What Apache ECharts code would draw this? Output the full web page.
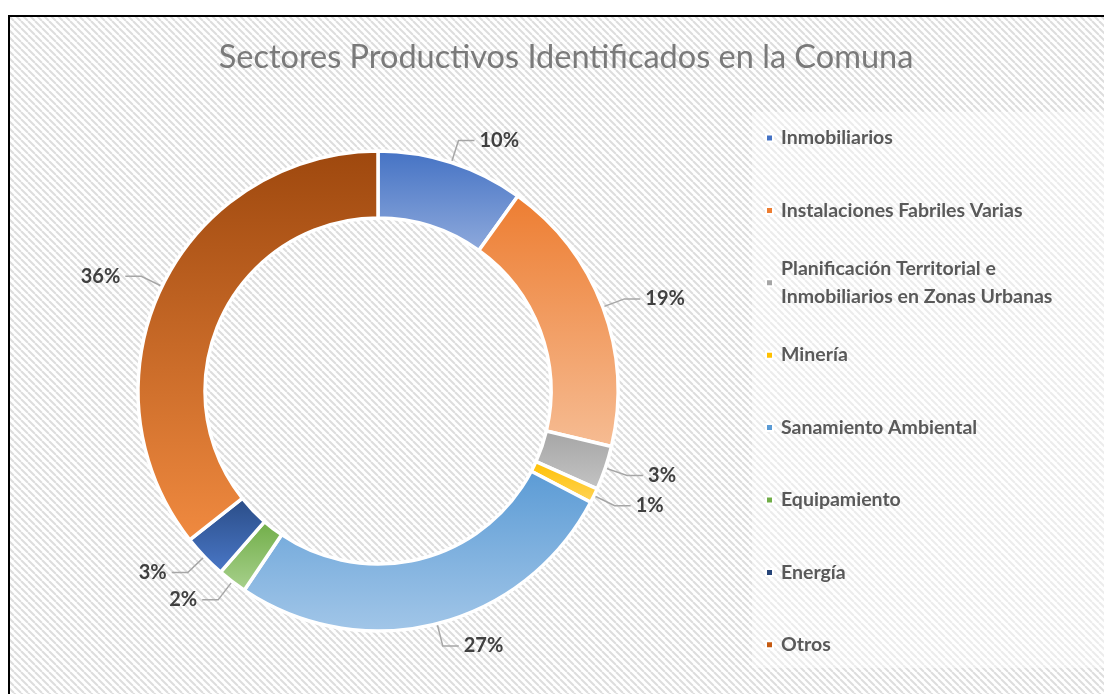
<!DOCTYPE html>
<html>
<head>
<meta charset="utf-8">
<script src="https://cdn.jsdelivr.net/npm/echarts@6/dist/echarts.min.js"></script>
<style>
  html, body { margin: 0; padding: 0; background: #ffffff; }
  #chart { width: 1104px; height: 694px; }
</style>
</head>
<body>
<div id="chart"></div>
<script>
// ---- Data ----
const titleText = 'Sectores Productivos Identificados en la Comuna';
const categories = [
  'Inmobiliarios',
  'Instalaciones Fabriles Varias',
  'Planificación Territorial e\nInmobiliarios en Zonas Urbanas',
  'Minería',
  'Sanamiento Ambiental',
  'Equipamiento',
  'Energía',
  'Otros'
];
const percentages = [10, 19, 3, 1, 27, 2, 3, 36];

// ---- Styles ----
const topColors    = ['#4472C4', '#ED7D31', '#A5A5A5', '#FFC000', '#5B9BD5', '#70AD47', '#2A4C86', '#9E480E'];
const bottomColors = ['#8FAADC', '#F6BC93', '#C4C4C4', '#FFD45A', '#A2C6E8', '#A9D18E', '#4A78C8', '#F08A40'];
const legendColors = ['#4472C4', '#ED7D31', '#A5A5A5', '#FFC000', '#5B9BD5', '#70AD47', '#264478', '#C55A11'];

function grad(i) {
  return new echarts.graphic.LinearGradient(0, 0, 0, 1, [
    { offset: 0, color: topColors[i] },
    { offset: 1, color: bottomColors[i] }
  ]);
}

// hatch pattern
const tile = document.createElement('canvas');
tile.width = 7; tile.height = 7;
const tc = tile.getContext('2d');
tc.fillStyle = '#ffffff'; tc.fillRect(0, 0, 7, 7);
tc.strokeStyle = '#dddddd'; tc.lineWidth = 2;
for (let k = -1; k <= 1; k++) {
  tc.beginPath(); tc.moveTo(k * 7, 0); tc.lineTo(k * 7 + 7, 7); tc.stroke();
}

const mainData = categories.map((n, i) => ({ name: n, value: percentages[i], itemStyle: { color: grad(i) } }));
const labelData = categories.map((n, i) => ({ name: n, value: percentages[i] }));

const chart = echarts.init(document.getElementById('chart'), null, { renderer: 'canvas' });
chart.setOption({
  animation: false,
  backgroundColor: '#ffffff',
  graphic: [
    { type: 'rect', z: -10, shape: { x: 9, y: 16, width: 1110, height: 700 },
      style: { fill: { image: tile, repeat: 'repeat' } }, silent: true },
    { type: 'rect', z: -9, shape: { x: 752, y: 112, width: 360, height: 556 },
      style: { fill: 'rgba(255,255,255,0.45)' }, silent: true },
    { type: 'rect', z: -8, shape: { x: 9, y: 16, width: 1110, height: 700 },
      style: { fill: 'none', stroke: '#000000', lineWidth: 2 }, silent: true }
  ],
  title: {
    text: titleText,
    left: 561, top: 36, textAlign: 'center',
    textStyle: { fontFamily: 'Lato', fontWeight: 'normal', fontSize: 32.5, color: '#7a7a7a' }
  },
  legend: {
    orient: 'vertical',
    left: 760, top: 91,
    icon: 'rect', itemWidth: 7, itemHeight: 7, itemGap: -11.6,
    selectedMode: false,
    textStyle: { fontFamily: 'Lato', fontWeight: 'bold', fontSize: 19.5, color: '#595959', lineHeight: 28, padding: [28, 0, 28, 3] },
    data: categories.map((n, i) => {
      const d = { name: n, itemStyle: { color: legendColors[i] } };
      if (n.indexOf('\n') >= 0) d.textStyle = { padding: [28, 0, 0, 3] };
      return d;
    })
  },
  series: [
    {
      type: 'pie', name: 'main',
      center: [378, 391], radius: [173, 240],
      startAngle: 90, clockwise: true,
      avoidLabelOverlap: false,
      label: { show: false }, labelLine: { show: false },
      emphasis: { disabled: true },
      itemStyle: { borderColor: '#ffffff', borderWidth: 3.5 },
      data: mainData
    },
    {
      type: 'pie', name: 'labels', silent: true,
      center: [378, 391], radius: [206, 207],
      startAngle: 90, clockwise: true,
      avoidLabelOverlap: true,
      emphasis: { disabled: true },
      itemStyle: { color: 'rgba(0,0,0,0)' },
      label: {
        show: true, position: 'outside',
        formatter: p => p.value + '%',
        fontFamily: 'Lato', fontWeight: 'bold', fontSize: 20, color: '#404040',
        distanceToLabelLine: 5
      },
      labelLine: { show: true, length: 56, length2: 16, smooth: false,
        lineStyle: { color: '#A6A6A6', width: 1.5 } },
      data: labelData
    }
  ]
});
</script>
</body>
</html>
